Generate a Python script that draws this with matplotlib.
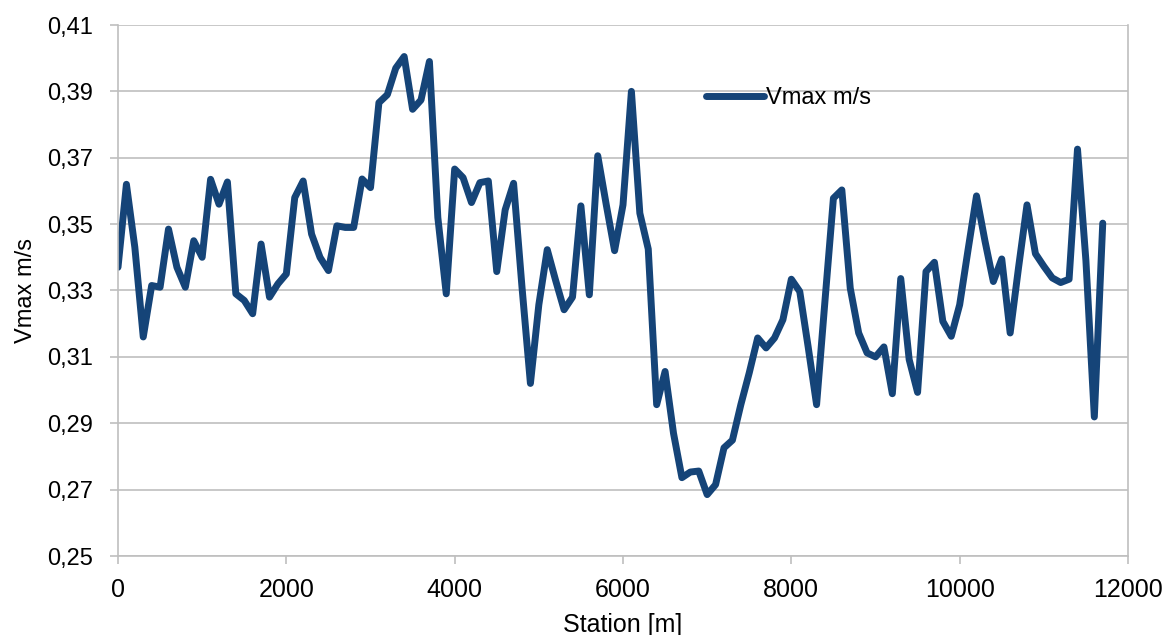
import numpy as np
import matplotlib
matplotlib.use("Agg")
import matplotlib.pyplot as plt
from matplotlib.ticker import FuncFormatter

# Station every 100 m, 0 .. 11700
station = list(range(0, 11800, 100))

vmax = [
    0.337, 0.362, 0.343, 0.316, 0.3315, 0.331, 0.3485, 0.337, 0.331, 0.345,
    0.340, 0.3635, 0.356, 0.3627, 0.329, 0.327, 0.323, 0.344, 0.328, 0.332,
    0.335, 0.358, 0.363, 0.347, 0.340, 0.336, 0.3495, 0.349, 0.349, 0.3636,
    0.361, 0.3866, 0.389, 0.397, 0.4005, 0.3846, 0.3874, 0.399, 0.352, 0.329,
    0.3666, 0.364, 0.3565, 0.3625, 0.363, 0.3357, 0.3543, 0.3623, 0.331, 0.302,
    0.3257, 0.3423, 0.333, 0.3242, 0.328, 0.3555, 0.3287, 0.3706, 0.356, 0.342,
    0.3558, 0.390, 0.3533, 0.3425, 0.2956, 0.3056, 0.287, 0.2736, 0.2753, 0.2756,
    0.2685, 0.2715, 0.2826, 0.2849, 0.2956, 0.3052, 0.3157, 0.3127, 0.3157, 0.3212,
    0.3334, 0.3297, 0.313, 0.2956, 0.327, 0.3578, 0.3603, 0.3307, 0.3172, 0.3112,
    0.310, 0.313, 0.2989, 0.3336, 0.3092, 0.2993, 0.3357, 0.3385, 0.3207, 0.3162,
    0.3257, 0.3423, 0.3585, 0.345, 0.3327, 0.3395, 0.3172, 0.337, 0.3558, 0.3411,
    0.3373, 0.3338, 0.3324, 0.3334, 0.3726, 0.339, 0.2919, 0.3503,
]
assert len(station) == len(vmax)

xticks = [0, 2000, 4000, 6000, 8000, 10000, 12000]
yticks = [0.25, 0.27, 0.29, 0.31, 0.33, 0.35, 0.37, 0.39, 0.41]

line_color = "#154478"
grid_color = "#bfbfbf"
plt.rcParams["font.family"] = ["Liberation Sans", "DejaVu Sans"]

fig = plt.figure(figsize=(11.65, 6.35), dpi=100)
ax = fig.add_axes([118 / 1165, 1 - 556 / 635, 1010 / 1165, 531 / 635])

ax.plot(station, vmax, color=line_color, lw=5, solid_joinstyle="round",
        solid_capstyle="round", label="Vmax m/s")

ax.set_xlim(0, 12000)
ax.set_ylim(0.25, 0.41)
ax.set_xticks(xticks)
ax.set_yticks(yticks)
ax.yaxis.set_major_formatter(FuncFormatter(lambda v, p: f"{v:.2f}".replace(".", ",")))

ax.grid(axis="y", color=grid_color, lw=1.2)
ax.set_axisbelow(True)
for side in ["left", "bottom", "right"]:
    ax.spines[side].set_color(grid_color)
    ax.spines[side].set_linewidth(1.2)
ax.spines["top"].set_visible(False)
ax.tick_params(axis="both", colors=grid_color, length=6, width=1.2,
               labelcolor="black")
ax.tick_params(axis="y", pad=12, labelsize=17)
ax.tick_params(axis="x", pad=10, labelsize=18)

ax.set_xlabel("Station [m]", fontsize=18, labelpad=8)
ax.set_ylabel("Vmax m/s", fontsize=17, labelpad=7)

ax.legend(loc="center left", bbox_to_anchor=(0.582, 0.862), frameon=False,
          fontsize=17, handlelength=2.45, handletextpad=0.1, borderpad=0,
          borderaxespad=0)

fig.savefig("out.png", dpi=100)
